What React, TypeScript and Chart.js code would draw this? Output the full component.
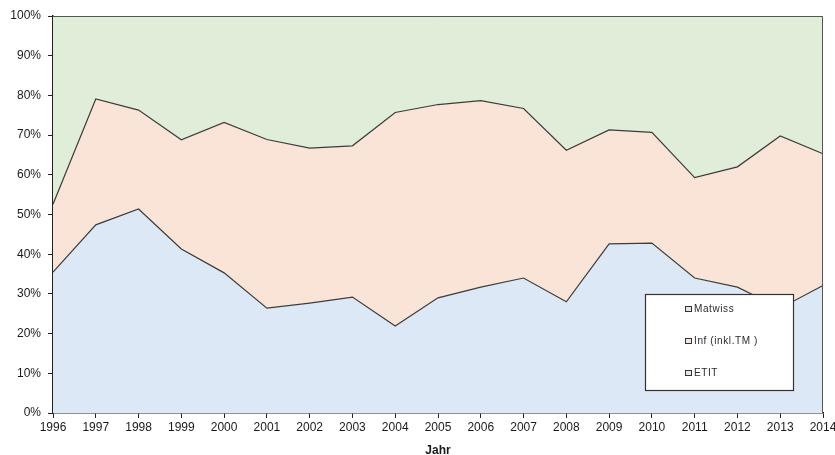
import React, { useEffect, useRef } from "react";
import { Chart, registerables } from "chart.js";

Chart.register(...registerables);

const years = ["1996","1997","1998","1999","2000","2001","2002","2003","2004","2005","2006","2007","2008","2009","2010","2011","2012","2013","2014"];
const etit = [35.5,47.4,51.4,41.3,35.3,26.4,27.7,29.2,21.9,29.0,31.7,34.0,28.0,42.6,42.8,34.0,31.7,26.4,32.1];
const inf = [17.1,31.7,24.9,27.5,37.9,42.5,39.0,38.1,53.8,48.7,47.0,42.7,38.2,28.7,27.9,25.3,30.3,43.4,33.2];
const matwiss = [47.4,20.9,23.7,31.2,26.8,31.1,33.3,32.7,24.3,22.3,21.3,23.3,33.8,28.7,29.3,40.7,38.0,30.2,34.7];
const yTicks = [0,10,20,30,40,50,60,70,80,90,100];
const seriesLabels = ["ETIT", "Inf (inkl.TM )", "Matwiss"];
const xTitle = "Jahr";

const FONT = "'Liberation Sans', Arial, sans-serif";

const framePlugin = {
  id: "frame",
  afterDatasetsDraw(chart: any) {
    const { ctx, chartArea } = chart;
    ctx.save();
    ctx.strokeStyle = "#555";
    ctx.lineWidth = 1;
    ctx.beginPath();
    ctx.moveTo(chartArea.left, chartArea.top + 0.5);
    ctx.lineTo(chartArea.right - 0.5, chartArea.top + 0.5);
    ctx.lineTo(chartArea.right - 0.5, chartArea.bottom);
    ctx.stroke();
    ctx.restore();
  },
};

const boxLegendPlugin = {
  id: "boxLegend",
  afterDraw(chart: any) {
    const { ctx } = chart;
    const x = 645, y = 294, w = 148, h = 96;
    ctx.save();
    ctx.fillStyle = "#fff";
    ctx.fillRect(x, y, w, h);
    ctx.strokeStyle = "#333";
    ctx.lineWidth = 1.2;
    ctx.strokeRect(x + 0.5, y + 0.5, w, h);
    const ds = chart.data.datasets.slice().reverse();
    ctx.font = `10px ${FONT}`;
    (ctx as any).letterSpacing = "0.6px";
    ctx.textBaseline = "middle";
    ds.forEach((d: any, i: number) => {
      const cy = y + 15 + i * 32;
      ctx.fillStyle = d.backgroundColor;
      ctx.fillRect(685.5, cy - 2.5, 6, 5);
      ctx.strokeStyle = "#333";
      ctx.lineWidth = 1;
      ctx.strokeRect(685.5, cy - 2.5, 6, 5);
      ctx.fillStyle = "#2a2a2a";
      ctx.fillText(d.label, 694, cy);
    });
    ctx.restore();
  },
};

export default function App() {
  const ref = useRef<HTMLCanvasElement | null>(null);
  useEffect(() => {
    if (!ref.current) return;
    const lineColor = "#3c3c3c";
    const chart = new Chart(ref.current, {
      type: "line",
      data: {
        labels: years,
        datasets: [
          { label: seriesLabels[0], data: etit, backgroundColor: "#dce8f5", borderColor: lineColor, borderWidth: 1.2, fill: "origin", pointRadius: 0, tension: 0 },
          { label: seriesLabels[1], data: inf, backgroundColor: "#fae4d7", borderColor: lineColor, borderWidth: 1.2, fill: "-1", pointRadius: 0, tension: 0 },
          { label: seriesLabels[2], data: matwiss, backgroundColor: "#e0edd8", borderColor: "#555", borderWidth: 1, fill: "-1", pointRadius: 0, tension: 0 },
        ],
      },
      options: {
        responsive: false,
        animation: false,
        events: [],
        layout: { padding: { top: 16, right: 12, left: 0, bottom: 0 } },
        plugins: { legend: { display: false }, tooltip: { enabled: false } },
        scales: {
          x: {
            offset: false,
            grid: { display: true, drawOnChartArea: false, drawTicks: true, tickLength: 5, color: "#222" },
            border: { display: true, color: "#222", width: 1.5 },
            ticks: { color: "#1a1a1a", font: { family: FONT, size: 12 }, padding: 2, maxRotation: 0, autoSkip: false },
            title: { display: true, text: xTitle, color: "#1a1a1a", font: { family: FONT, size: 12, weight: "bold" }, padding: { top: 0, bottom: -3 } },
            afterFit: (s: any) => { s.height = 42; s.paddingRight = 0; s.paddingLeft = 0; },
          },
          y: {
            stacked: true,
            min: 0,
            max: 100,
            afterBuildTicks: (s: any) => { s.ticks = yTicks.map((v) => ({ value: v })); },
            grid: { display: true, drawOnChartArea: false, drawTicks: true, tickLength: 5, color: "#222" },
            border: { display: true, color: "#222", width: 1.5 },
            ticks: { color: "#1a1a1a", font: { family: FONT, size: 12 }, padding: 7, callback: (v: any) => v + "%" },
            afterFit: (s: any) => { s.width = 53; },
          },
        },
      },
      plugins: [framePlugin, boxLegendPlugin],
    });
    return () => chart.destroy();
  }, []);
  return (
    <div style={{ position: "absolute", left: 0, top: 0, width: 835, height: 455, background: "#fff" }}>
      <canvas ref={ref} width={835} height={455} style={{ display: "block" }} />
    </div>
  );
}
